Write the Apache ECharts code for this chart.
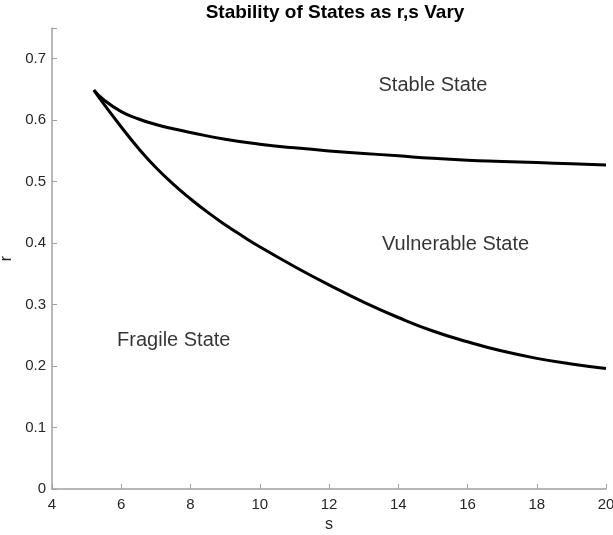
<!DOCTYPE html>
<html>
<head>
<meta charset="utf-8">
<script src="https://cdn.jsdelivr.net/npm/echarts@6/dist/echarts.min.js"></script>
<style>
  html, body { margin: 0; padding: 0; background: #fff; }
  #main { width: 613px; height: 535px; }
</style>
</head>
<body>
<div id="main"></div>
<script>
// boundary between stable and vulnerable states
var upperS = [5.21, 5.5, 6, 6.5, 7, 7.5, 8, 9, 10, 11, 12, 13, 14, 15, 16, 17, 18, 19, 20];
var upperR = [0.649, 0.633, 0.614, 0.602, 0.593, 0.586, 0.580, 0.569, 0.561, 0.555, 0.550, 0.546, 0.542, 0.538, 0.535, 0.533, 0.531, 0.529, 0.527];

// boundary between vulnerable and fragile states
var lowerS = [5.21, 5.5, 6, 6.5, 7, 7.5, 8, 8.5, 9, 9.5, 10, 11, 12, 13, 14, 15, 16, 17, 18, 19, 20];
var lowerR = [0.649, 0.626, 0.589, 0.554, 0.523, 0.496, 0.472, 0.450, 0.430, 0.4115, 0.394, 0.362, 0.332, 0.304, 0.279, 0.257, 0.2395, 0.2245, 0.2125, 0.2035, 0.196];

// region labels
var regionNames = ['Stable State', 'Vulnerable State', 'Fragile State'];
var regionS = [13.43, 13.53, 5.88];
var regionR = [0.656, 0.397, 0.241];

function pairs(xs, ys) {
  return xs.map(function (x, i) { return [x, ys[i]]; });
}

var lineStyle = { color: '#000', width: 3 };

option = {
  animation: false,
  backgroundColor: '#fff',
  title: {
    text: 'Stability of States as r,s Vary',
    left: 330,
    textAlign: 'center',
    top: -2,
    textStyle: { fontFamily: 'Liberation Sans', fontSize: 19, fontWeight: 'bold', color: '#000' }
  },
  grid: { left: 52, right: 7, top: 28, bottom: 46, outerBoundsMode: 'none', containLabel: false },
  xAxis: {
    type: 'value',
    min: 4,
    max: 20,
    interval: 2,
    name: 's',
    nameLocation: 'middle',
    nameGap: 24,
    nameTextStyle: { fontFamily: 'Liberation Sans', fontSize: 16, color: '#262626' },
    axisLine: { lineStyle: { color: '#a0a0a0', width: 1.5 } },
    axisTick: { inside: true, length: 5, lineStyle: { color: '#a0a0a0' } },
    axisLabel: { fontFamily: 'Liberation Sans', fontSize: 15, color: '#262626', margin: 8 },
    splitLine: { show: false }
  },
  yAxis: {
    type: 'value',
    min: 0,
    max: 0.75,
    interval: 0.1,
    name: 'r',
    nameLocation: 'middle',
    nameGap: 28,
    nameTextStyle: { fontFamily: 'Liberation Sans', fontSize: 16, color: '#262626' },
    axisLine: { show: true, lineStyle: { color: '#a0a0a0', width: 1.5 } },
    axisTick: { show: true, inside: true, length: 5, lineStyle: { color: '#a0a0a0' } },
    axisLabel: {
      fontFamily: 'Liberation Sans', fontSize: 15, color: '#262626', margin: 6,
      formatter: function (v) { return v > 0.72 ? '' : String(Math.round(v * 10) / 10); }
    },
    splitLine: { show: false }
  },
  series: [
    {
      type: 'line',
      data: pairs(upperS, upperR),
      smooth: 0.5,
      showSymbol: false,
      lineStyle: lineStyle
    },
    {
      type: 'line',
      data: pairs(lowerS, lowerR),
      smooth: 0.5,
      showSymbol: false,
      lineStyle: lineStyle
    },
    {
      type: 'scatter',
      symbolSize: 0,
      data: regionNames.map(function (n, i) { return { name: n, value: [regionS[i], regionR[i]] }; }),
      label: {
        show: true,
        position: 'right',
        distance: 0,
        formatter: '{b}',
        fontFamily: 'Liberation Sans',
        fontSize: 20,
        color: '#000'
      }
    }
  ]
};

var myChart = echarts.init(document.getElementById('main'));
myChart.setOption(option);
</script>
</body>
</html>
